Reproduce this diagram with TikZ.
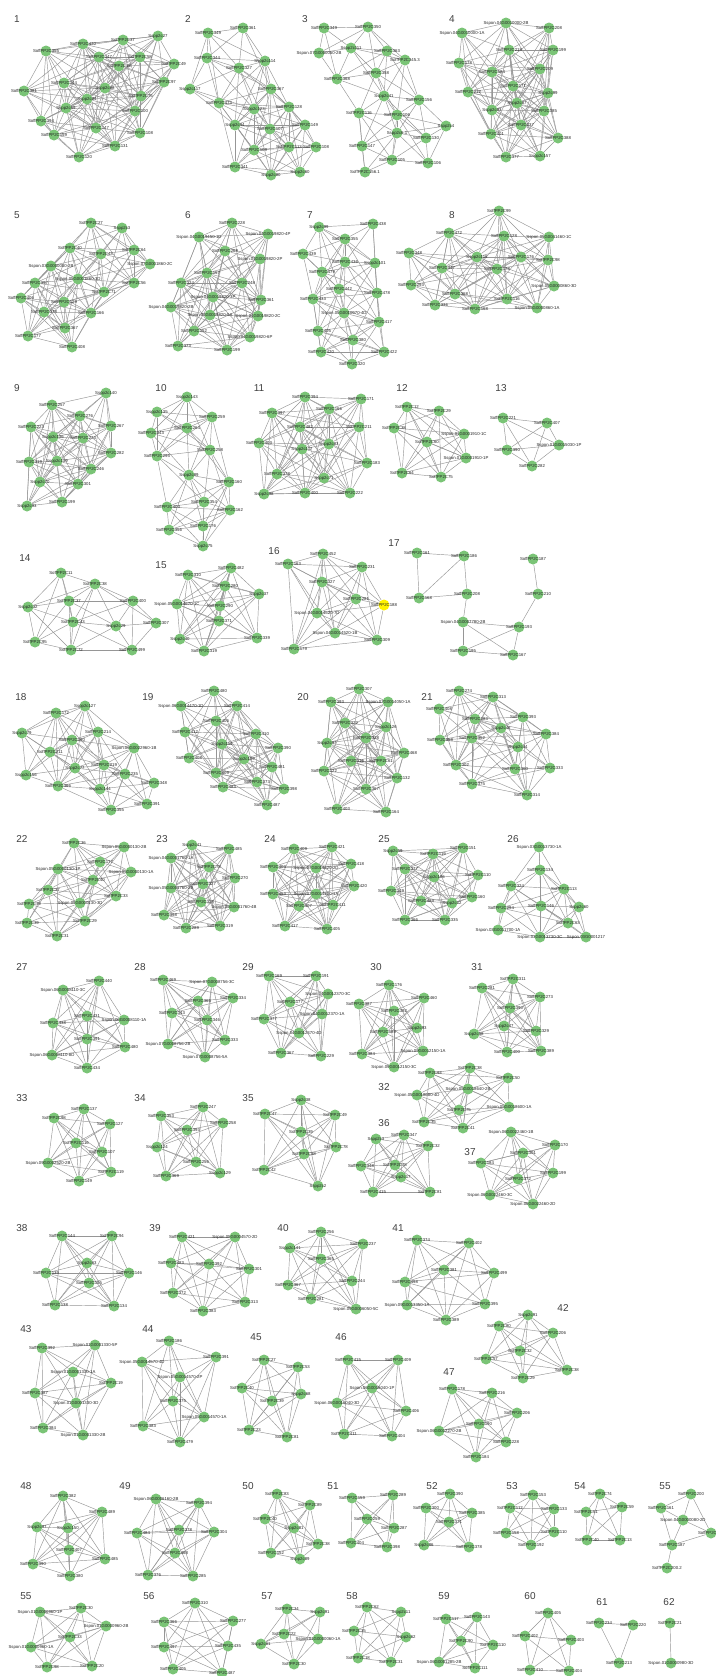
\documentclass[tikz,border=0pt]{standalone}
\usepackage{fontspec}
\setmainfont{Liberation Sans}
\usepackage{xcolor}
\usepackage{tikz}

\definecolor{nodegreen}{RGB}{122,196,118}
\definecolor{edgegray}{RGB}{150,150,150}
\pgfdeclarelayer{bg}
\pgfsetlayers{bg,main}

% gene name prefixes
\newcommand\ga{SoffPP2C}
\newcommand\gb{Sspp2c}
\newcommand\gc{Sspon.}

\tikzset{
  gene/.style={circle, fill=nodegreen, minimum size=11pt, inner sep=0pt},
  genetext/.style={font=\fontsize{4.3}{5}\selectfont, inner sep=0pt, text=black!85},
  link/.style={draw=edgegray, line width=0.45pt},
  panelno/.style={font=\fontsize{10}{12}\selectfont, text=black!75},
  hl16-6/.style={fill=yellow}
}

% one network: #1 id, #2 link distance, #3 list of x/y/name
\newcommand\cluster[3]{%
  \foreach \x/\y/\lab [count=\i] in {#3}
    \node[gene, hl#1-\i/.try, label={[genetext]center:\lab}] (p#1-\i) at (\x,\y) {};
  \begin{pgfonlayer}{bg}
  \foreach \xa/\ya/\la [count=\i] in {#3}
    \foreach \xb/\yb/\lb [count=\j] in {#3} {
      \ifnum\j>\i
        \pgfmathtruncatemacro\near{veclen(\xa-\xb,\ya-\yb)<#2}
        \ifnum\near=1 \draw[link] (p#1-\i) -- (p#1-\j); \fi
      \fi}
  \end{pgfonlayer}}

\begin{document}
\begin{tikzpicture}[x=1pt, y=-1pt]
  \begin{pgfonlayer}{bg}
    \fill[white] (0,0) rectangle (715,1676);
  \end{pgfonlayer}
  \useasboundingbox (0,0) rectangle (715,1676);

  % Panel numbers
  \foreach \n/\x/\y in {1/17/19, 2/188/19, 3/305/19, 4/452/19,
      5/17/215, 6/188/215, 7/310/215, 8/452/215,
      9/17/388, 10/161/388, 11/259/388, 12/402/388, 13/501/388,
      14/25/558, 15/161/565, 16/274/551, 17/394/543,
      18/21/697, 19/148/697, 20/303/697, 21/427/697,
      22/22/839, 23/162/839, 24/270/839, 25/384/839, 26/513/839,
      27/22/967, 28/140/967, 29/248/967, 30/376/967, 31/477/967,
      32/384/1087, 33/22/1098, 34/140/1098, 35/248/1098, 36/384/1123, 37/470/1152,
      38/22/1228, 39/155/1228, 40/283/1228, 41/398/1228, 42/563/1308,
      43/26/1329, 44/148/1329, 45/256/1337, 46/341/1337, 47/449/1372,
      48/26/1486, 49/125/1486, 50/248/1486, 51/333/1486, 52/432/1486,
      53/512/1486, 54/580/1486, 55/665/1486,
      55/26/1596, 56/149/1596, 57/267/1596, 58/352/1596, 59/444/1596,
      60/530/1596, 61/602/1602, 62/669/1602}
    \node[panelno] (num-\x-\y) at (\x,\y) {\n};

  % Row 1
  \cluster{1}{85}{83/44/\ga470, 46/51/\ga355, 99/57/\ga347, 123/40/\ga37, 158/36/\gb27,
    140/57/\ga58, 174/64/\ga49, 119/66/\ga18, 64/83/\ga344, 105/88/\gb68, 164/82/\ga97,
    24/91/\ga381, 141/96/\ga75, 87/99/\gb84, 66/108/\gb69, 135/111/\ga100, 41/121/\ga394,
    96/128/\ga147, 54/135/\ga159, 140/133/\ga108, 115/146/\ga131, 79/157/\ga120}
  \cluster{2}{72}{208/33/\ga349, 243/28/\ga361, 207/58/\ga344, 265/61/\gb114, 239/68/\ga327,
    190/89/\gb117, 271/89/\ga367, 219/103/\ga473, 254/109/\gb123, 289/107/\ga128, 235/125/\gb94,
    270/129/\ga107, 305/125/\ga149, 254/150/\ga109, 289/147/\ga113, 316/147/\ga108,
    235/167/\ga341, 271/175/\gb80, 300/172/\gb60}
  \cluster{3}{60}{324/28/\ga349, 368/27/\ga350, 351/48/\gb111, 387/51/\ga363,
    319/53/\gc07G0000050-2B, 405/60/\ga345.3, 376/73/\ga358, 337/79/\ga368, 384/96/\gb41,
    419/100/\ga156, 359/113/\ga116, 397/115/\ga106, 446/126/\gb4, 397/133/\gb6.1,
    426/138/\ga130, 362/146/\ga147, 392/160/\ga105, 428/163/\ga106, 365/172/\ga156.1}
  \cluster{4}{85}{506/23/\gc04G0010000-2B, 549/28/\ga208, 462/33/\gc04G0010000-1A,
    509/50/\ga218, 553/50/\ga199, 459/63/\ga178, 492/72/\ga184, 540/69/\ga209, 513/86/\ga171,
    468/92/\ga212, 548/93/\gb99, 517/103/\gb87, 492/110/\gb93, 544/111/\ga385, 521/125/\ga237,
    491/134/\ga401, 558/138/\ga388, 506/157/\ga377, 540/156/\gb157}

  % Row 2
  \cluster{5}{80}{91/223/\ga27, 122/228/\gb3, 70/248/\ga40, 101/254/\ga43, 134/250/\ga64,
    150/264/\gc07G0001860-2C, 51/266/\gc03G0000050-2B, 78/279/\gc05G0001860-3D,
    35/283/\ga397, 104/292/\ga71, 134/283/\ga56, 21/298/\ga406, 64/302/\ga129, 44/312/\ga378,
    91/313/\ga166, 65/328/\ga367, 28/336/\ga177, 72/347/\ga408}
  \cluster{6}{85}{232/223/\ga228, 199/237/\gc04G0019450-1D, 268/234/\gc04G0019820-4P,
    225/251/\ga268, 260/259/\gc04G0019820-2P, 207/273/\ga157, 181/283/\ga324, 242/283/\ga248,
    213/297/\gc04G0019820-3P, 261/300/\ga361, 171/307/\gc04G0019820-2B,
    210/315/\gc04G0019820-5A, 258/316/\gc04G0019820-2C, 194/331/\ga152,
    250/337/\gc04G0019820-6P, 178/346/\ga373, 227/350/\ga199}
  \cluster{7}{70}{319/227/\gb99, 373/224/\ga438, 345/239/\ga355, 303/254/\ga439,
    345/262/\ga436, 375/263/\gb101, 322/272/\ga479, 339/289/\ga442, 377/293/\ga478,
    313/299/\ga433, 344/313/\gc05G0010970-4D, 379/322/\ga417, 318/331/\ga405, 353/340/\ga380,
    321/352/\ga420, 384/352/\ga422, 352/364/\ga320}
  \cluster{8}{90}{499/211/\ga99, 449/233/\ga472, 504/236/\ga128, 549/237/\gc05G0041460-1C,
    409/253/\ga348, 477/257/\gb116, 521/257/\ga176, 548/260/\ga98, 442/268/\ga347,
    497/269/\ga178, 411/285/\ga293, 554/286/\gc05G0000860-3D, 455/294/\ga368, 507/299/\ga116,
    435/305/\ga336, 475/309/\ga168, 537/308/\gc05G0000860-1A}

  % Row 3
  \cluster{9}{80}{106/393/\gb140, 52/405/\ga257, 80/416/\ga276, 111/426/\ga267, 31/427/\ga223,
    53/437/\gb136, 83/438/\ga273, 111/453/\ga282, 29/462/\ga319, 57/461/\gb139, 91/469/\ga246,
    40/482/\gb70, 78/484/\ga301, 27/506/\gb93, 62/502/\ga199}
  \cluster{10}{70}{187/397/\gb143, 157/412/\gb135, 212/417/\ga259, 151/433/\ga343,
    187/428/\ga264, 210/450/\ga258, 157/456/\ga295, 189/475/\gb89, 229/482/\ga160,
    204/502/\ga354, 167/507/\ga403, 230/510/\ga162, 203/526/\ga176, 169/530/\ga356, 203/546/\gb75}
  \cluster{11}{90}{305/397/\ga394, 361/399/\ga171, 272/413/\ga397, 329/409/\ga166,
    300/427/\ga482, 359/427/\ga211, 259/443/\ga403, 329/444/\gb83, 302/449/\gb117,
    367/463/\ga183, 277/474/\ga378, 324/478/\gb71, 264/494/\gb98, 305/493/\ga400, 350/493/\ga222}
  \cluster{12}{90}{407/407/\ga12, 439/411/\ga29, 394/428/\ga38, 464/434/\gc01G0001910-1C,
    427/442/\ga60, 466/458/\gc01G0001910-1P, 402/473/\ga64, 441/477/\ga75}
  \cluster{13}{70}{503/418/\ga221, 547/423/\ga407, 559/445/\gc01G0015030-1P, 507/450/\ga390,
    532/466/\ga282}

  % Row 4
  \cluster{14}{75}{61/573/\ga11, 95/584/\ga38, 69/601/\ga37, 28/607/\gb32, 73/622/\ga43,
    116/626/\gb29, 133/601/\ga400, 156/623/\ga307, 35/642/\ga95, 71/650/\ga72, 132/650/\ga499}
  \cluster{15}{90}{231/568/\ga482, 188/575/\ga310, 225/586/\ga280, 259/594/\gb37,
    177/604/\gc05G0014670-1C, 220/606/\ga290, 219/621/\ga371, 180/639/\gb40, 257/638/\ga339,
    204/651/\ga319}
  \cluster{16}{100}{323/554/\ga452, 288/564/\ga163, 362/567/\ga231, 322/582/\ga327,
    356/599/\ga281, 384/605/\ga188, 317/613/\gc04G0014520-7D, 335/633/\gc04G0014520-1B,
    377/640/\ga309, 294/649/\ga179}
  \cluster{17}{0}{417/553/\ga161, 464/556/\ga186, 533/559/\ga187, 419/598/\ga168,
    467/594/\ga208, 538/594/\ga210, 463/622/\gc04G0007780-2B, 519/627/\ga193,
    463/651/\ga195, 513/655/\ga167}
  \begin{pgfonlayer}{bg}
    \foreach \a/\b in {1/2, 1/4, 2/4, 2/5, 4/5, 5/7, 7/8, 7/9, 7/10, 9/10, 8/10, 8/9, 3/6, 6/8}
      \draw[link] (p17-\a) -- (p17-\b);
  \end{pgfonlayer}

  % Row 5
  \cluster{18}{75}{85/706/\gb127, 56/713/\ga172, 22/733/\gb79, 98/732/\ga214, 72/740/\ga180,
    134/748/\gc06G0022960-1B, 50/752/\ga211, 75/768/\gb77, 104/765/\ga219, 26/775/\gb156,
    125/774/\ga235, 154/783/\ga348, 58/786/\ga366, 100/789/\gb144, 147/804/\ga391, 111/810/\ga355}
  \cluster{19}{80}{214/691/\ga480, 181/706/\gc06G0014470-1D, 237/706/\ga414, 216/721/\ga406,
    185/732/\ga412, 256/734/\ga410, 222/744/\gb114, 278/748/\ga390, 189/758/\ga408,
    244/759/\gb109, 272/767/\ga481, 216/773/\ga409, 257/782/\ga373, 223/787/\ga483,
    284/789/\ga398, 267/805/\ga487}
  \cluster{20}{85}{359/689/\ga307, 331/702/\ga393, 388/702/\gc07G0014050-1A, 345/723/\ga322,
    386/727/\gb126, 366/738/\ga328, 327/743/\gb97, 404/753/\ga468, 351/761/\ga316,
    381/761/\ga61, 324/771/\ga122, 397/778/\ga132, 366/789/\ga367, 337/809/\ga403, 386/812/\ga164}
  \cluster{21}{80}{459/691/\ga274, 493/697/\ga313, 439/709/\ga408, 523/717/\ga393,
    475/719/\ga183, 501/728/\gb46, 546/734/\ga384, 440/740/\ga359, 472/738/\ga352,
    518/747/\gb34, 456/765/\ga302, 515/769/\ga360, 550/768/\ga333, 472/784/\ga375, 527/795/\ga314}

  % Row 6
  \cluster{22}{75}{74/843/\ga36, 124/847/\gc05G0000130-2B, 100/862/\ga177,
    58/869/\gc05G0000130-1P, 131/872/\gc05G0000130-1A, 93/880/\ga40, 48/890/\ga37,
    116/896/\ga33, 80/903/\gc05G0000130-3D, 29/904/\ga79, 85/921/\ga29, 27/923/\ga39, 57/936/\ga31}
  \cluster{23}{90}{192/845/\gb41, 229/849/\ga485, 171/858/\gc04G0001760-1A, 209/867/\ga78,
    235/878/\ga270, 203/884/\ga327, 171/888/\gc05G0001760-2B, 201/902/\ga328,
    234/907/\gc05G0001760-4B, 164/915/\ga398, 186/928/\ga289, 220/926/\ga319}
  \cluster{24}{90}{294/849/\ga409, 332/847/\ga421, 351/864/\ga418, 273/867/\ga403,
    316/868/\gc07G0014820-2D, 354/886/\ga420, 273/894/\ga453, 316/894/\gc07G0014820-1A,
    299/906/\ga407, 333/905/\ga411, 285/926/\ga417, 327/929/\ga405}
  \cluster{25}{85}{393/851/\gb59, 463/848/\ga151, 433/854/\ga119, 405/869/\ga377,
    434/877/\gb106, 478/875/\ga110, 391/891/\ga349, 472/897/\ga160, 421/901/\ga423,
    452/903/\gb12, 405/920/\ga366, 445/920/\ga335}
  \cluster{26}{70}{539/847/\gc03G0013730-1A, 540/870/\ga134, 511/886/\ga324, 564/889/\ga113,
    501/908/\ga294, 541/906/\ga146, 579/907/\gb60, 568/923/\ga63, 498/930/\gc03G0011700-1A,
    540/937/\gc03G0013730-3C, 586/937/\gc03G0001217}

  % Row 7
  \cluster{27}{90}{99/981/\ga440, 63/990/\gc06G0008110-3C, 87/1016/\ga431,
    124/1020/\gc06G0008110-1A, 53/1023/\ga438, 87/1039/\ga391, 125/1047/\ga480,
    52/1055/\gc06G0008110-8D, 87/1068/\ga434}
  \cluster{28}{90}{163/980/\ga469, 212/982/\gc07G0008756-3C, 198/1001/\ga365, 233/998/\ga334,
    172/1013/\ga343, 207/1020/\ga346, 225/1040/\ga333, 168/1044/\gc07G0008756-2B,
    205/1057/\gc07G0008756-5A}
  \cluster{29}{90}{269/976/\ga169, 316/976/\ga191, 328/994/\gc04G0012370-3C, 290/1002/\ga177,
    322/1014/\gc04G0012370-1A, 264/1019/\ga377, 299/1033/\gc04G0012370-4D, 281/1053/\ga367,
    321/1056/\ga229}
  \cluster{30}{90}{389/985/\ga176, 424/998/\ga460, 359/1004/\ga387, 394/1011/\ga392,
    417/1028/\gb93, 383/1032/\ga189, 362/1054/\ga384, 423/1051/\gc09G0012150-1A,
    394/1067/\gc09G0012150-3C}
  \cluster{31}{90}{513/979/\ga311, 482/988/\ga281, 540/997/\ga273, 510/1008/\ga390,
    504/1026/\gb47, 474/1034/\gb58, 536/1031/\ga329, 507/1052/\ga400, 541/1051/\ga389}
  \cluster{32}{90}{470/1068/\ga38, 430/1073/\ga93, 508/1078/\ga50, 468/1089/\gc05G0018640-2B,
    417/1095/\gc05G0018680-4D, 509/1107/\gc05G0018600-1A, 459/1110/\ga75, 424/1122/\ga35,
    463/1128/\ga41}

  % Row 8
  \cluster{33}{90}{84/1109/\ga137, 54/1118/\ga98, 110/1124/\ga127, 76/1143/\ga116,
    102/1152/\ga107, 48/1163/\gc09G0002520-2B, 111/1172/\ga119, 79/1181/\ga149}
  \cluster{34}{90}{203/1107/\ga247, 161/1116/\ga353, 223/1123/\ga258, 187/1130/\ga393,
    157/1147/\gb124, 196/1162/\ga256, 166/1176/\ga369, 220/1173/\gb129}
  \cluster{35}{90}{301/1100/\gb38, 265/1114/\ga47, 335/1115/\ga49, 301/1132/\ga39,
    336/1147/\ga78, 304/1154/\ga38, 264/1170/\ga42, 318/1186/\gb2}
  \cluster{36}{90}{404/1135/\ga347, 376/1139/\gb3, 428/1146/\ga32, 361/1166/\ga348,
    395/1165/\ga78, 401/1177/\gb17, 373/1192/\ga415, 430/1192/\ga81}
  \cluster{37}{90}{511/1132/\gc06G0022460-1B, 555/1145/\ga170, 523/1153/\ga301,
    481/1163/\ga184, 553/1173/\ga199, 518/1179/\ga372, 490/1195/\gc06G0022460-3C,
    533/1204/\gc06G0022460-2D}

  % Row 9
  \cluster{38}{90}{62/1236/\ga144, 112/1236/\ga94, 87/1263/\gb63, 46/1273/\ga135,
    129/1273/\ga146, 89/1283/\ga155, 55/1305/\ga138, 114/1306/\ga134}
  \cluster{39}{90}{182/1237/\ga421, 235/1237/\gc05G0004570-2D, 171/1263/\ga483,
    209/1264/\ga392, 249/1269/\ga301, 173/1293/\ga372, 245/1302/\ga313, 203/1311/\ga383}
  \cluster{40}{90}{321/1232/\ga256, 363/1244/\ga237, 290/1248/\gb141, 321/1259/\ga365,
    288/1285/\ga367, 352/1281/\ga244, 311/1299/\ga281, 356/1309/\gc09G0006050-5C}
  \cluster{41}{90}{417/1240/\ga374, 469/1243/\ga402, 444/1270/\ga381, 494/1273/\ga499,
    405/1282/\ga498, 407/1305/\gc09G0013350-1A, 485/1304/\ga395, 446/1320/\ga389}
  \cluster{42}{90}{528/1315/\gb91, 499/1326/\ga80, 553/1333/\ga206, 520/1351/\ga32,
    486/1359/\ga57, 567/1370/\ga38, 523/1378/\ga29}

  % Row 10
  \cluster{43}{95}{42/1348/\ga392, 95/1345/\gc01G0001330-5P, 73/1372/\gc01G0001330-1A,
    111/1383/\ga19, 35/1393/\ga387, 76/1403/\gc01G0001330-3D, 43/1428/\ga384,
    83/1435/\gc01G0001330-2B}
  \cluster{44}{95}{169/1341/\ga186, 142/1362/\gc05G0014570-4D, 216/1357/\ga391,
    180/1377/\gc05G0014570-2P, 173/1401/\ga375, 204/1417/\gc05G0014570-1A, 143/1426/\ga383,
    180/1442/\ga479}
  \cluster{45}{95}{264/1360/\ga27, 298/1367/\ga53, 242/1388/\ga40, 301/1394/\gb68,
    272/1401/\ga39, 249/1430/\ga23, 287/1437/\ga81}
  \cluster{46}{95}{348/1360/\ga415, 398/1360/\ga409, 372/1388/\gc06G0016040-1P,
    337/1403/\gc06G0016040-3D, 406/1411/\ga406, 344/1434/\ga411, 392/1436/\ga404}
  \cluster{47}{95}{452/1389/\ga178, 492/1393/\ga216, 517/1413/\ga206, 479/1424/\ga190,
    439/1431/\gc06G0012270-2B, 506/1442/\ga228, 476/1457/\ga184}

  % Row 11
  \cluster{48}{90}{63/1496/\ga382, 102/1512/\ga489, 37/1527/\gb97, 68/1528/\gb150,
    69/1550/\ga407, 105/1559/\ga485, 33/1564/\ga390, 70/1576/\ga380}
  \cluster{49}{90}{156/1499/\gc06G0006160-2B, 199/1503/\ga394, 137/1533/\ga484,
    179/1530/\ga378, 214/1532/\ga304, 175/1553/\ga468, 148/1575/\ga376, 193/1576/\ga285}
  \cluster{50}{90}{277/1494/\ga83, 310/1505/\ga89, 265/1519/\ga40, 294/1528/\gb81,
    318/1544/\ga38, 271/1553/\ga152, 300/1559/\gb89}
  \cluster{51}{90}{352/1498/\ga159, 393/1495/\ga289, 367/1519/\ga259, 394/1528/\ga287,
    351/1543/\ga404, 387/1547/\ga398}
  \cluster{52}{90}{450/1494/\ga390, 426/1508/\ga300, 472/1513/\ga385, 449/1522/\ga371,
    424/1545/\gb86, 469/1547/\ga378}
  \cluster{53}{90}{533/1495/\ga153, 510/1508/\ga112, 554/1509/\ga133, 506/1533/\ga158,
    554/1532/\ga110, 531/1545/\ga192}
  \cluster{54}{90}{600/1494/\ga74, 622/1507/\ga59, 586/1512/\ga51, 587/1540/\ga40,
    620/1540/\ga13}
  \cluster{55}{48}{691/1494/\ga200, 661/1508/\ga161, 683/1520/\gc04G0000080-2D,
    711/1533/\ga193, 672/1545/\ga187, 667/1568/\ga200.2}

  % Row 12
  \cluster{55b}{90}{40/1612/\gc01G0000960-1P, 81/1608/\ga30, 106/1626/\gc01G0000960-2B,
    70/1637/\ga33, 31/1647/\gc01G0000960-1A, 47/1667/\ga98, 92/1666/\ga20}
  \cluster{56}{90}{195/1603/\ga310, 164/1622/\ga366, 233/1621/\ga277, 164/1647/\ga497,
    228/1646/\ga435, 173/1669/\ga405, 222/1673/\ga487}
  \cluster{57}{90}{287/1609/\ga34, 320/1612/\gb91, 284/1634/\ga22,
    318/1639/\gc01G0000060-1A, 261/1644/\gb61, 294/1664/\ga30}
  \cluster{58}{90}{367/1607/\ga62, 401/1612/\gb11, 354/1631/\ga35, 406/1637/\gb62,
    358/1658/\ga18, 391/1662/\ga31}
  \cluster{59}{90}{446/1619/\ga117, 477/1617/\ga143, 461/1641/\ga90, 493/1645/\ga110,
    439/1662/\gc06G0001285-2B, 475/1668/\ga111}
  \cluster{60}{90}{548/1613/\ga405, 525/1636/\ga402, 571/1640/\ga403, 530/1670/\ga410,
    569/1671/\ga404}
  \cluster{61}{50}{599/1623/\ga234, 633/1625/\ga220, 619/1663/\ga213}
  \cluster{62}{50}{670/1623/\ga21, 671/1663/\gc01G0000980-3D}
\end{tikzpicture}
\end{document}
